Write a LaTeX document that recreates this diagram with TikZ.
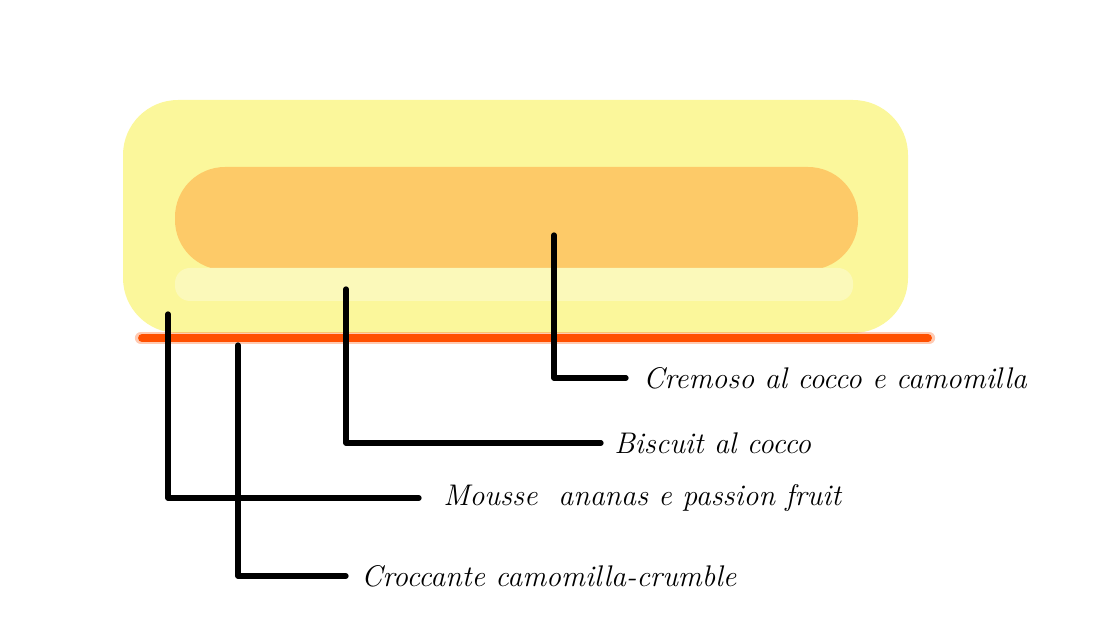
\documentclass[tikz,border=0pt]{standalone}
\usepackage{tikz}
\usetikzlibrary{positioning}

\definecolor{cakeyellow}{HTML}{FBF79B}
\definecolor{cakeorange}{HTML}{FDCA68}
\definecolor{cakestrip}{HTML}{FBF9BA}
\definecolor{cakebase}{HTML}{FF5000}

\tikzset{
  leader/.style={line width=3pt, line cap=round, line join=round, black},
  layerlabel/.style={anchor=west, inner sep=0pt, font=\itshape\fontsize{17}{20}\selectfont}
}

\begin{document}
\begin{tikzpicture}[x=0.02cm, y=-0.02cm]
\useasboundingbox (0,0) rectangle (1098,624);
% cake layers
\fill[cakeyellow, rounded corners=1.1cm] (123,100) rectangle (908,333);
\fill[cakeorange, rounded corners=1cm] (175,167) rectangle (858,270);
\fill[cakestrip, rounded corners=0.3cm] (175,268) rectangle (853,301);
\draw[cakebase, line width=7pt, line cap=round, opacity=0.3] (141,338) -- (929,338);
\draw[cakebase, line width=4.5pt, line cap=round] (142,338) -- (928,338);

% where each leader starts
\coordinate (cremoso) at (554,235);
\coordinate (biscuit) at (346,289);
\coordinate (mousse) at (168,314);
\coordinate (croccante) at (238,345);

% labels
\node[layerlabel] (lcremoso) at (643,378) {Cremoso al cocco e camomilla};
\node[layerlabel] (lbiscuit) at (614,443) {Biscuit al cocco};
\node[layerlabel] (lmousse) at (443,498) {Mousse\ \ ananas e passion fruit};
\node[layerlabel] (lcroccante) at (361,576) {Croccante camomilla-crumble};

\draw[leader] (cremoso) |- ([xshift=-0.34cm]lcremoso.west);
\draw[leader] (biscuit) |- ([xshift=-0.26cm]lbiscuit.west);
\draw[leader] (mousse) |- ([xshift=-0.48cm]lmousse.west);
\draw[leader] (croccante) |- ([xshift=-0.3cm]lcroccante.west);
\end{tikzpicture}
\end{document}
